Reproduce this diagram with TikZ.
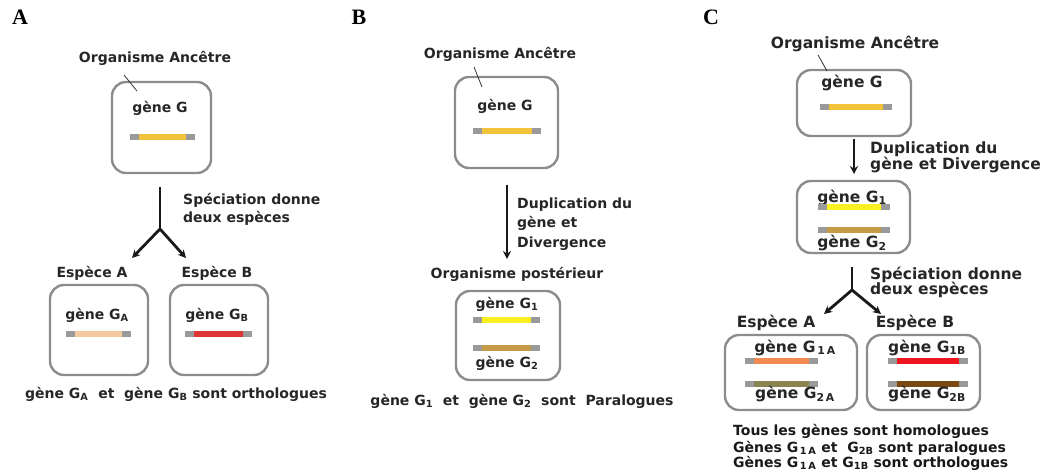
\documentclass[tikz,border=0pt]{standalone}
\usepackage{fontspec}
\setsansfont{DejaVu Sans}
\newfontfamily\panelfont{Liberation Serif}
\usetikzlibrary{arrows.meta}

\definecolor{boxgray}{HTML}{8C8C8C}
\definecolor{endgray}{HTML}{9A9A9A}
\definecolor{geneG}{HTML}{F2C23A}
\definecolor{geneGA}{HTML}{F5C9A0}
\definecolor{geneGB}{HTML}{DD3535}
\definecolor{geneOne}{HTML}{F8F020}
\definecolor{geneTwo}{HTML}{C49C48}
\definecolor{geneOneA}{HTML}{F08A50}
\definecolor{geneTwoA}{HTML}{8A8452}
\definecolor{geneOneB}{HTML}{EE1420}
\definecolor{geneTwoB}{HTML}{7A4812}

% gene bar: #1 left x, #2 right x, #3 y, #4 colour of the coding part
\newcommand\genebar[4]{%
  \fill[endgray] (#1,#3-2.6) rectangle (#2,#3+2.6);
  \fill[#4] (#1+9,#3-2.6) rectangle (#2-9,#3+2.6);}

\tikzset{
  orgbox/.style={draw=boxgray, line width=2.4pt, rounded corners=14pt, inner sep=0pt},
  txtab/.style={font=\sffamily\bfseries\fontsize{14}{15}\selectfont, inner sep=0pt, text=black!85},
  txtc/.style={font=\sffamily\bfseries\fontsize{15.5}{16}\selectfont, inner sep=0pt, text=black!85},
  txtnote/.style={font=\sffamily\bfseries\fontsize{14}{15}\selectfont, inner sep=0pt, text=black!90},
  panel/.style={font=\panelfont\bfseries\fontsize{22}{24}\selectfont, inner sep=0pt},
  leader/.style={draw=black!80, line width=0.8pt},
  flow/.style={draw=black!90, line width=2.8pt},
  flowtip/.style={flow, -{Stealth[length=8pt,width=8pt]}},
}

\begin{document}
\begin{tikzpicture}[x=1pt,y=-1pt]
\useasboundingbox (0,0) rectangle (1048,472);

% ---------------- A : speciation gives orthologues ----------------
\node[panel] (pA) at (20,17) {A};
\node[txtab, anchor=base] (a0t) at (155,62) {Organisme Ancêtre};
\node[orgbox, minimum width=99, minimum height=91] (a0) at (161.5,127.5) {};
\coordinate (a0l1) at (124,75);
\coordinate (a0l2) at (137,91);
\draw[leader] (a0l1) -- (a0l2);
\node[txtab, anchor=base] (a0g) at (160,112) {gène G};
\genebar{130}{195}{137}{geneG}

\coordinate (aTop) at (160,187);
\coordinate (aFork) at (160,229);
\coordinate (aL) at (132,258);
\coordinate (aR) at (186,258);
\draw[flow] (aTop) -- (aFork);
\draw[flowtip] (aFork) -- (aL);
\draw[flowtip] (aFork) -- (aR);
\node[txtab, anchor=base west] (aS1) at (183,204) {Spéciation donne};
\node[txtab, anchor=base west] (aS2) at (183,222) {deux espèces};

\node[txtab, anchor=base] (aEA) at (92,277) {Espèce A};
\node[txtab, anchor=base] (aEB) at (217,277) {Espèce B};
\node[orgbox, minimum width=98, minimum height=90] (a1) at (99,330) {};
\node[orgbox, minimum width=98, minimum height=90] (a2) at (219,330) {};
\node[txtab, anchor=base] (a1g) at (97,319) {gène G\textsubscript{A}};
\node[txtab, anchor=base] (a2g) at (217,319) {gène G\textsubscript{B}};
\genebar{66}{131}{334}{geneGA}
\genebar{185}{252}{334}{geneGB}
\node[txtab, anchor=base] (aFoot) at (176,398) {gène G\textsubscript{A} \ et \ gène G\textsubscript{B} sont orthologues};

% ---------------- B : duplication gives paralogues ----------------
\node[panel] (pB) at (359,17) {B};
\node[txtab, anchor=base] (b0t) at (500,58) {Organisme Ancêtre};
\node[orgbox, minimum width=103, minimum height=91] (b0) at (506.5,122.5) {};
\coordinate (b0l1) at (474,67);
\coordinate (b0l2) at (482,87);
\draw[leader] (b0l1) -- (b0l2);
\node[txtab, anchor=base] (b0g) at (505,110) {gène G};
\genebar{473}{541}{131}{geneG}

\coordinate (bTop) at (507,185);
\coordinate (bEnd) at (507,259);
\draw[flowtip] (bTop) -- (bEnd);
\node[txtab, anchor=base west] (bD1) at (517,208) {Duplication du};
\node[txtab, anchor=base west] (bD2) at (517,227) {gène et};
\node[txtab, anchor=base west] (bD3) at (517,247) {Divergence};

\node[txtab, anchor=base] (b1t) at (517,278) {Organisme postérieur};
\node[orgbox, minimum width=104, minimum height=89] (b1) at (508,335.5) {};
\node[txtab, anchor=base] (b1g) at (507,308) {gène G\textsubscript{1}};
\genebar{473}{540}{320}{geneOne}
\genebar{473}{540}{348}{geneTwo}
\node[txtab, anchor=base] (b2g) at (507,367) {gène G\textsubscript{2}};
\node[txtab, anchor=base] (bFoot) at (522,405) {gène G\textsubscript{1} \ et \ gène G\textsubscript{2} \ sont \ Paralogues};

% ---------------- C : duplication then speciation ----------------
\node[panel] (pC) at (711,17) {C};
\node[txtc, anchor=base] (c0t) at (855,48) {Organisme Ancêtre};
\node[orgbox, minimum width=114, minimum height=66] (c0) at (854,103) {};
\coordinate (c0l1) at (818,55);
\coordinate (c0l2) at (827,71);
\draw[leader] (c0l1) -- (c0l2);
\node[txtc, anchor=base] (c0g) at (852,87) {gène G};
\genebar{820}{892}{107}{geneG}

\coordinate (cTop) at (854,139);
\coordinate (cEnd) at (854,174);
\draw[flowtip] (cTop) -- (cEnd);
\node[txtc, anchor=base west] (cD1) at (870,153) {Duplication du};
\node[txtc, anchor=base west] (cD2) at (870,169) {gène et Divergence};

\node[orgbox, minimum width=113, minimum height=72] (c1) at (853.5,217) {};
\node[txtc, anchor=base] (c1g) at (852,202) {gène G\textsubscript{1}};
\genebar{818}{890}{207}{geneOne}
\genebar{818}{890}{230}{geneTwo}
\node[txtc, anchor=base] (c2g) at (852,247) {gène G\textsubscript{2}};

\coordinate (cSTop) at (852,267);
\coordinate (cFork) at (852,290);
\coordinate (cL) at (824,314);
\coordinate (cR) at (881,314);
\draw[flow] (cSTop) -- (cFork);
\draw[flowtip] (cFork) -- (cL);
\draw[flowtip] (cFork) -- (cR);
\node[txtc, anchor=base west] (cS1) at (870,279) {Spéciation donne};
\node[txtc, anchor=base west] (cS2) at (870,294) {deux espèces};

\node[txtc, anchor=base] (cEA) at (776,327) {Espèce A};
\node[txtc, anchor=base] (cEB) at (915,327) {Espèce B};
\node[orgbox, minimum width=132, minimum height=75] (c2) at (791,372.5) {};
\node[orgbox, minimum width=113, minimum height=75] (c3) at (923.5,372.5) {};
\node[txtc, anchor=base] (c2a) at (795,352) {gène G\textsubscript{\,1\,A}};
\genebar{745}{818}{361}{geneOneA}
\genebar{745}{818}{384}{geneTwoA}
\node[txtc, anchor=base] (c2b) at (795,398) {gène G\textsubscript{2\,A}};
\node[txtc, anchor=base] (c3a) at (927,352) {gène G\textsubscript{1B}};
\genebar{888}{968}{361}{geneOneB}
\genebar{888}{968}{384}{geneTwoB}
\node[txtc, anchor=base] (c3b) at (927,398) {gène G\textsubscript{2B}};

\node[txtnote, anchor=base west] (cN1) at (733,435) {Tous les gènes sont homologues};
\node[txtnote, anchor=base west] (cN2) at (733,452) {Gènes G\textsubscript{\,1\,A} et \ G\textsubscript{2B} sont paralogues};
\node[txtnote, anchor=base west] (cN3) at (733,467) {Gènes G\textsubscript{\,1\,A} et G\textsubscript{1B} sont orthologues};
\end{tikzpicture}
\end{document}
